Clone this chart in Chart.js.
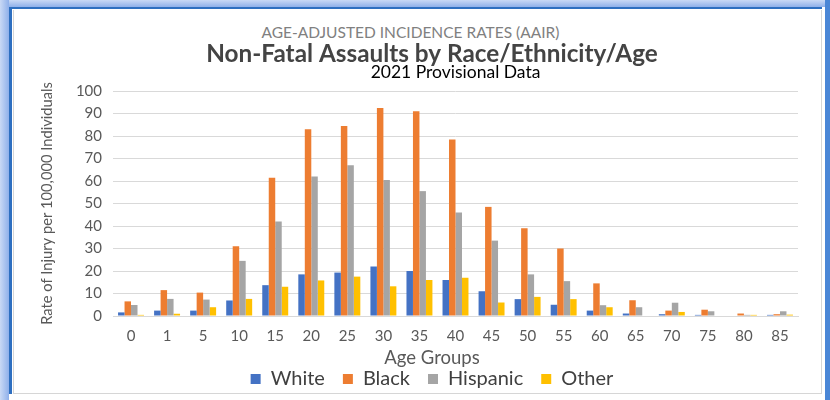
<!DOCTYPE html>
<html>
<head>
<meta charset="utf-8">
<script src="https://cdn.jsdelivr.net/npm/chart.js@4"></script>
<style>
  html, body { margin: 0; padding: 0; background: #ffffff; }
  #frame {
    position: absolute; left: 0; top: 0; width: 830px; height: 400px;
    background: linear-gradient(to right, #c9d9f5 0px, #8fb0ea 9px, transparent 9px),
                linear-gradient(to bottom, #c9d9f5 0px, #8fb0ea 7px, transparent 7px);
    overflow: hidden;
  }
  #panel {
    position: absolute; left: 9px; top: 7px; width: 813px; height: 387px;
    border-left: 3px solid #2e6fc0; border-top: 2px solid #2e6fc0;
    background: #ffffff;
    box-sizing: border-box;
  }
  #inner {
    position: absolute; left: 1px; top: 1px; right: 0; bottom: 0;
    border-left: 1px solid #d6d6d6; border-bottom: 1px solid #d6d6d6; border-right: 1px solid #d6d6d6;
    box-sizing: border-box;
  }
  #rightedge { position: absolute; left: 825px; top: 0; width: 5px; height: 400px; background: #4a86d6; }
  #header {
    position: absolute; left: 0; width: 821px; top: 23px; line-height: 18px; text-align: center;
    font-family: Lato, sans-serif; font-size: 15.5px; color: #808080;
  }
  #wrap { position: absolute; left: 13px; top: 9px; width: 809px; height: 391px; }
</style>
</head>
<body>
<div id="frame">
  <div id="panel"><div id="inner"></div></div>
  <div id="rightedge"></div>
  <div id="header">AGE-ADJUSTED INCIDENCE RATES (AAIR)</div>
  <div id="wrap"><canvas id="c"></canvas></div>
</div>
<script>
// Age group starting ages
const ageGroups = ['0', '1', '5', '10', '15', '20', '25', '30', '35', '40', '45', '50', '55', '60', '65', '70', '75', '80', '85'];

// Rate of injury per 100,000 individuals by race/ethnicity
const white    = [1.6, 2.4, 2.4, 6.9, 13.7, 18.5, 19.3, 22.0, 20.0, 16.0, 11.0, 7.5, 5.0, 2.4, 1.1, 0.8, 0.5, 0.0, 0.5];
const black    = [6.5, 11.5, 10.4, 31.0, 61.5, 83.0, 84.5, 92.5, 91.0, 78.5, 48.5, 39.0, 30.0, 14.5, 7.0, 2.4, 2.8, 1.1, 0.8];
const hispanic = [4.9, 7.6, 7.3, 24.5, 42.0, 62.0, 67.0, 60.5, 55.5, 46.0, 33.5, 18.5, 15.5, 4.8, 3.9, 5.9, 2.1, 0.5, 2.1];
const other    = [0.5, 1.0, 3.9, 7.6, 13.0, 15.8, 17.5, 13.2, 16.0, 17.0, 6.0, 8.5, 7.5, 3.9, 0.0, 1.8, 0.0, 0.5, 0.6];

const yTicks = { min: 0, max: 100, step: 10 };

const font = 'Lato, sans-serif';
const textGrey = '#595959';

new Chart(document.getElementById('c'), {
  type: 'bar',
  data: {
    labels: ageGroups,
    datasets: [
      { label: 'White',    data: white,    backgroundColor: '#4472C4' },
      { label: 'Black',    data: black,    backgroundColor: '#ED7D31' },
      { label: 'Hispanic', data: hispanic, backgroundColor: '#A5A5A5' },
      { label: 'Other',    data: other,    backgroundColor: '#FFC000' }
    ]
  },
  options: {
    responsive: true,
    maintainAspectRatio: false,
    animation: false,
    datasets: { bar: { categoryPercentage: 0.72, barPercentage: 1.0 } },
    layout: { padding: { top: 29, left: 53, right: 24, bottom: 1 } },
    plugins: {
      title: {
        display: true,
        text: 'Non-Fatal Assaults by Race/Ethnicity/Age',
        color: '#444444',
        font: { family: font, size: 24.3, weight: 'bold', lineHeight: 1 },
        padding: { top: 3.6, bottom: 0 }
      },
      subtitle: {
        display: true,
        fullSize: false,
        text: '2021 Provisional Data',
        color: '#000000',
        font: { family: font, size: 17.5, lineHeight: 1 },
        padding: { top: -2.65, bottom: 10.25 }
      },
      legend: {
        position: 'bottom',
        title: {
          // axis caption sits directly above the series keys
          display: true, text: 'Age Groups', color: textGrey,
          font: { family: font, size: 18.5 },
          padding: { top: 3.9, bottom: -20.1 }
        },
        labels: {
          color: '#404040',
          font: { family: font, size: 20 },
          boxWidth: 10, boxHeight: 10, padding: 18
        }
      },
      tooltip: { enabled: false }
    },
    scales: {
      x: {
        grid: { display: false, drawTicks: false },
        border: { display: true, color: '#d9d9d9' },
        ticks: { color: textGrey, font: { family: font, size: 15 }, padding: 11, autoSkip: false, maxRotation: 0 },
        afterFit: (scale) => { scale.height = 29; }
      },
      y: {
        min: yTicks.min, max: yTicks.max,
        grid: { color: '#d9d9d9', drawTicks: false },
        border: { display: false },
        ticks: { stepSize: yTicks.step, autoSkip: false, color: textGrey, font: { family: font, size: 15 }, padding: 11 },
        title: {
          display: true, text: 'Rate of Injury per 100,000 Individuals', color: textGrey,
          font: { family: font, size: 14.7 }, padding: { top: -28, bottom: 0 }
        },
        afterFit: (scale) => { scale.width = 47; }
      }
    }
  }
});
</script>
</body>
</html>
